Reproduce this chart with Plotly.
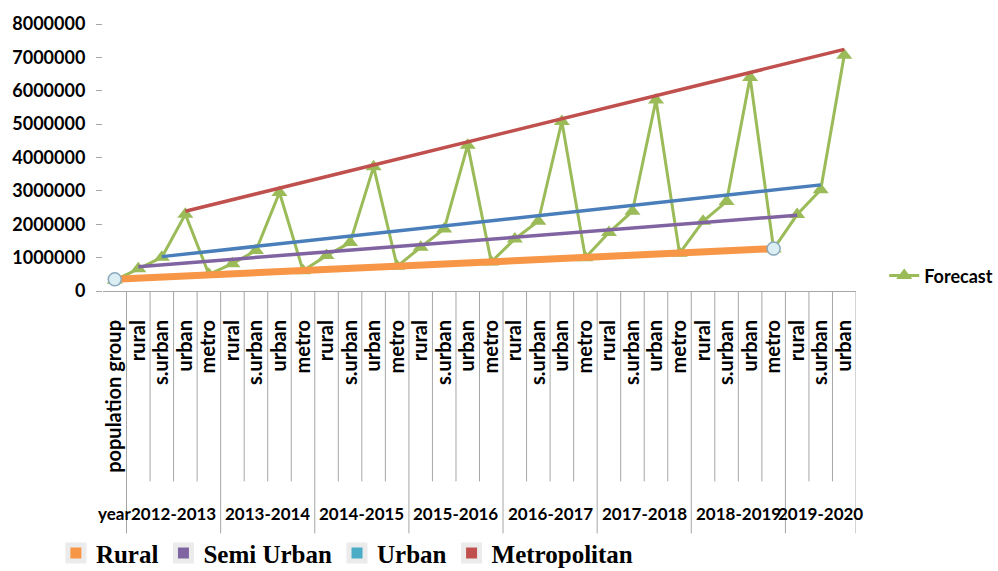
import plotly.graph_objects as go

# ---- data -------------------------------------------------------------
groups = ["year", "2012-2013", "2013-2014", "2014-2015", "2015-2016",
          "2016-2017", "2017-2018", "2018-2019", "2019-2020"]
quarter_subs = ["rural", "s.urban", "urban", "metro"]
subgroups = [["population group"]] + [quarter_subs] * 7 + [["rural", "s.urban", "urban"]]

forecast = [
    320000,
    670000, 1010000, 2300000, 500000,
    820000, 1210000, 2950000, 610000,
    1060000, 1450000, 3720000, 740000,
    1310000, 1860000, 4370000, 870000,
    1560000, 2090000, 5080000, 1000000,
    1750000, 2390000, 5720000, 1130000,
    2090000, 2680000, 6400000, 1260000,
    2290000, 3030000, 7060000,
]

trend_names = ["Rural", "Semi Urban", "Urban", "Metropolitan"]
trend_from = [("year", "population group"), ("2012-2013", "rural"),
              ("2012-2013", "s.urban"), ("2012-2013", "urban")]
trend_to = [("2018-2019", "metro"), ("2019-2020", "rural"),
            ("2019-2020", "s.urban"), ("2019-2020", "urban")]
trend_start = [350000, 730000, 1030000, 2390000]
trend_end = [1270000, 2270000, 3180000, 7240000]

y_ticks = [0, 1000000, 2000000, 3000000, 4000000, 5000000, 6000000, 7000000, 8000000]

# ---- styling ----------------------------------------------------------
line_colors = ["#f79646", "#8064a2", "#4a7ebb", "#c0504d"]
line_widths = [7, 3.5, 3.5, 3.5]
legend_colors = ["#f79646", "#8064a2", "#4bacc6", "#c0504d"]
green = "#9bbb59"
axis_gray = "#a6a6a6"
label_font = dict(family="Lato", size=20, color="black", weight="bold")


def key(g, s):
    return f"{g}|{s}"


cats = [(g, s) for g, subs in zip(groups, subgroups) for s in subs]
keys = [key(g, s) for g, s in cats]
sub_text = [s for _, s in cats]

fig = go.Figure()

fig.add_trace(go.Scatter(
    x=keys, y=forecast, name="Forecast", mode="lines+markers",
    line=dict(color=green, width=3),
    marker=dict(symbol="triangle-up", size=14, color=green),
    legend="legend2",
))

for i, name in enumerate(trend_names):
    endpoints = dict(symbol="circle", size=13, color="#dbeef4",
                     line=dict(color="#8aa9bd", width=1.5))
    fig.add_trace(go.Scatter(
        x=[key(*trend_from[i]), key(*trend_to[i])],
        y=[trend_start[i], trend_end[i]],
        mode="lines+markers" if i == 0 else "lines",
        line=dict(color=line_colors[i], width=line_widths[i]),
        marker=endpoints if i == 0 else None,
        showlegend=False, hoverinfo="skip",
    ))

# legend swatches for the four population groups
for i, name in enumerate(trend_names):
    fig.add_trace(go.Scatter(
        x=[None], y=[None], name=name, mode="markers",
        marker=dict(symbol="square", size=16, color=legend_colors[i],
                    line=dict(color="#ebebeb", width=5)),
        legend="legend",
    ))

# group separators below the axis
shapes = []
pos = 0
for gi, subs in enumerate(subgroups):
    for si in range(len(subs)):
        boundary = pos + 0.5
        last_in_group = si == len(subs) - 1
        shapes.append(dict(
            type="line", xref="x", yref="paper",
            x0=boundary, x1=boundary, y0=0,
            y1=-0.908 if last_in_group else -0.713,
            line=dict(color=axis_gray, width=1),
        ))
        pos += 1

# year labels centred under their groups
annotations = []
start = 0
for g, subs in zip(groups, subgroups):
    centre = start + (len(subs) - 1) / 2
    annotations.append(dict(
        x=centre, y=-0.835, xref="x", yref="paper", text=g,
        showarrow=False, xanchor="center", yanchor="middle",
        font=dict(family="Lato", size=17, color="black", weight="bold"),
    ))
    start += len(subs)

fig.update_layout(
    width=998, height=571,
    margin=dict(l=96, r=142, t=19, b=280),
    plot_bgcolor="white", paper_bgcolor="white",
    shapes=shapes, annotations=annotations,
    xaxis=dict(
        type="category", categoryorder="array", categoryarray=keys,
        range=[-0.5, len(keys) - 0.5],
        tickmode="array", tickvals=keys, ticktext=sub_text,
        tickangle=-90, tickfont=label_font,
        showline=True, linecolor=axis_gray, linewidth=1,
        ticks="", showgrid=False, zeroline=False,
        ticklabelstandoff=20,
    ),
    yaxis=dict(
        range=[0, 8000000], tickmode="array", tickvals=y_ticks,
        tickformat="d", ticks="outside", ticklen=6, tickcolor=axis_gray,
        showline=False, showgrid=False, zeroline=False,
        tickfont=dict(family="Lato", size=18, color="black", weight="bold"),
        ticklabelstandoff=7,
    ),
    legend=dict(
        orientation="h", xref="container", yref="container",
        x=0.056, y=0.031, xanchor="left", yanchor="middle",
        font=dict(family="Liberation Serif", size=25, color="black", weight="bold"),
        bgcolor="rgba(0,0,0,0)", itemsizing="trace",
    ),
    legend2=dict(
        xref="container", yref="container",
        x=0.886, y=0.517, xanchor="left", yanchor="middle",
        font=dict(family="Lato", size=18, color="black", weight="bold"),
        bgcolor="rgba(0,0,0,0)",
    ),
)

fig.write_html("out.html")
